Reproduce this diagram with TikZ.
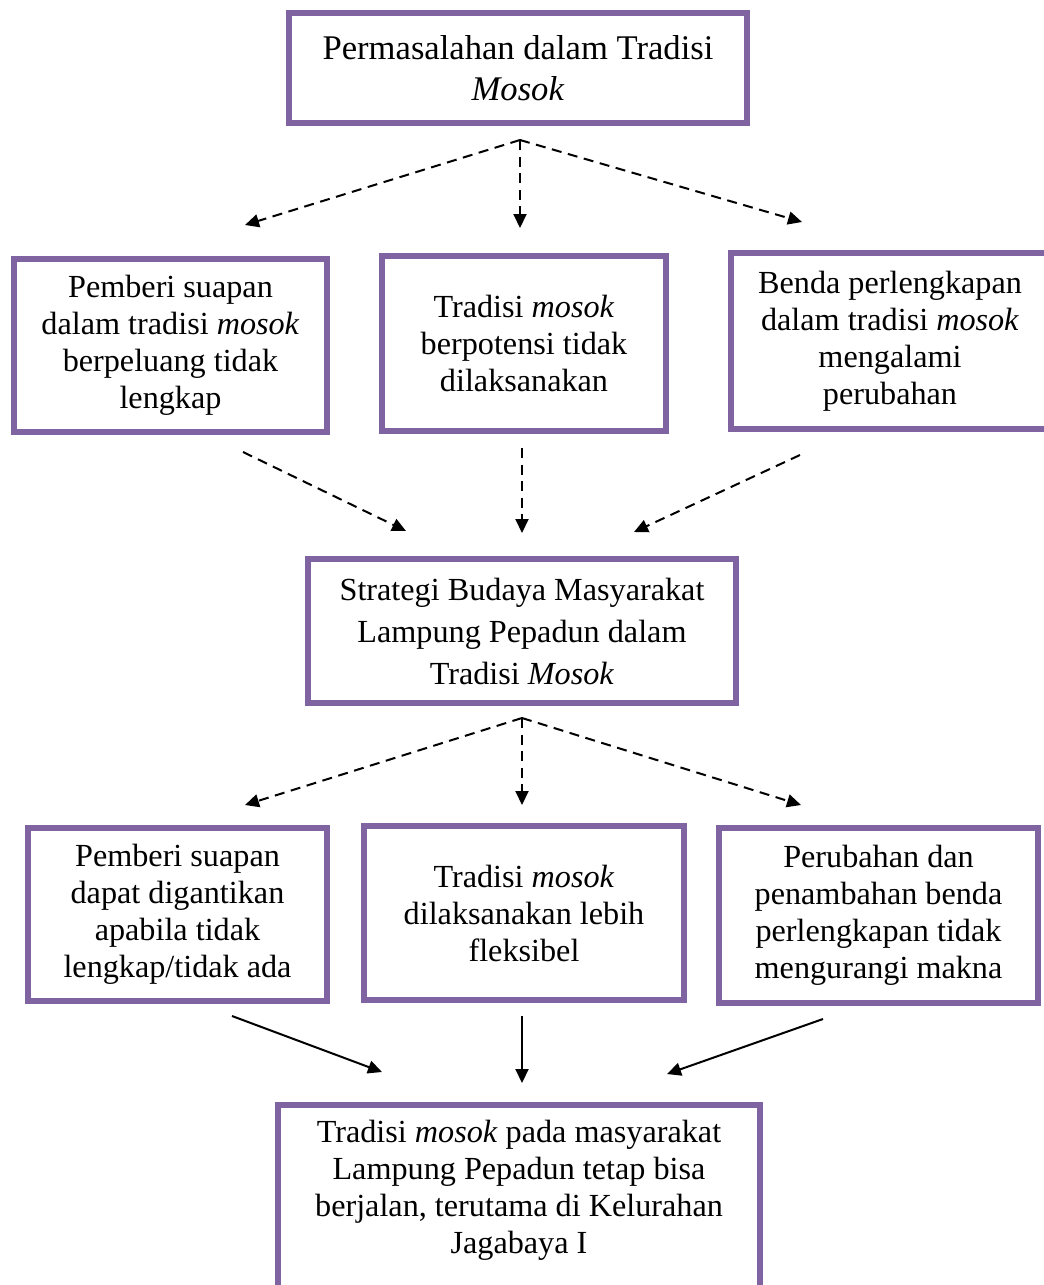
\documentclass[tikz,border=0pt]{standalone}
\usepackage{fontspec}
\setmainfont{Liberation Serif}
\usetikzlibrary{arrows.meta}
\definecolor{boxpurple}{RGB}{128,100,162}
\begin{document}
\begin{tikzpicture}[x=0.5pt,y=-0.5pt,
  box/.style={draw=boxpurple,line width=3pt,align=center,inner sep=0pt,
    font=\fontsize{16.1}{18.5}\selectfont},
  plain/.style={align=center,inner sep=0pt,font=\fontsize{16.1}{18.5}\selectfont},
  big/.style={font=\fontsize{17.3}{20.6}\selectfont},
  wide/.style={font=\fontsize{16.1}{21}\selectfont},
  darrow/.style={dashed,dash pattern=on 5pt off 3.3pt,line width=1pt,-{Triangle[length=7pt,width=6.5pt]}},
  sarrow/.style={line width=1pt,-{Triangle[length=7pt,width=6.5pt]}}]
\useasboundingbox (0,0) rectangle (1044,1285);
% nodes
\node[box,big,minimum width=229pt,minimum height=55pt] (top) at (518,68) {Permasalahan dalam Tradisi\\\textit{Mosok}};
\node[box,minimum width=156.5pt,minimum height=86.5pt] (ra) at (170.5,345.5) {Pemberi suapan\\dalam tradisi \textit{mosok}\\berpeluang tidak\\lengkap};
\node[box,minimum width=142pt,minimum height=87.5pt] (rb) at (524,343.5) {Tradisi \textit{mosok}\\berpotensi tidak\\dilaksanakan};
\node[box,minimum width=159pt,minimum height=88pt] (rc) at (890,341) {Benda perlengkapan\\dalam tradisi \textit{mosok}\\mengalami\\perubahan};
\node[box,wide,minimum width=214pt,minimum height=72pt] (strat) at (522,631) {Strategi Budaya Masyarakat\\Lampung Pepadun dalam\\Tradisi \textit{Mosok}};
\node[box,minimum width=149.5pt,minimum height=86.5pt] (sa) at (177.5,914.5) {Pemberi suapan\\dapat digantikan\\apabila tidak\\lengkap/tidak ada};
\node[box,minimum width=160pt,minimum height=87pt] (sb) at (524,913) {Tradisi \textit{mosok}\\dilaksanakan lebih\\fleksibel};
\node[box,minimum width=159.5pt,minimum height=87.5pt] (sc) at (878.5,915.5) {Perubahan dan\\penambahan benda\\perlengkapan tidak\\mengurangi makna};
\node[box,anchor=north,minimum width=241pt,minimum height=104pt] (botframe) at (519,1102) {};
\node[plain] (bot) at (519,1190) {Tradisi \textit{mosok} pada masyarakat\\Lampung Pepadun tetap bisa\\berjalan, terutama di Kelurahan\\Jagabaya I};
% connector coordinates
\coordinate (t0) at (520,140);
\coordinate (t1) at (245,225);
\coordinate (t2) at (520,228);
\coordinate (t3) at (802,222);
\coordinate (a0) at (243,452);
\coordinate (b0) at (522,448);
\coordinate (c0) at (800,455);
\coordinate (m1) at (406,531);
\coordinate (m2) at (522,533);
\coordinate (m3) at (634,532);
\coordinate (s0) at (522,718);
\coordinate (s1) at (245,805);
\coordinate (s2) at (522,805);
\coordinate (s3) at (801,805);
\coordinate (p1) at (232,1016);
\coordinate (p2) at (522,1016);
\coordinate (p3) at (823,1019);
\coordinate (q1) at (382,1072);
\coordinate (q2) at (522,1083);
\coordinate (q3) at (667,1074);
% connectors
\draw[darrow] (t0) -- (t1);
\draw[darrow] (t0) -- (t2);
\draw[darrow] (t0) -- (t3);
\draw[darrow] (a0) -- (m1);
\draw[darrow] (b0) -- (m2);
\draw[darrow] (c0) -- (m3);
\draw[darrow] (s0) -- (s1);
\draw[darrow] (s0) -- (s2);
\draw[darrow] (s0) -- (s3);
\draw[sarrow] (p1) -- (q1);
\draw[sarrow] (p2) -- (q2);
\draw[sarrow] (p3) -- (q3);
\end{tikzpicture}
\end{document}
